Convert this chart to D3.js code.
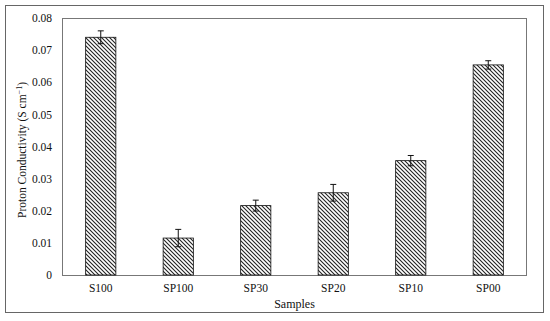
<!DOCTYPE html>
<html><head><meta charset="utf-8">
<script src="https://cdn.jsdelivr.net/npm/d3@7"></script>
<style>body{margin:0;background:#fff}svg{display:block}</style>
</head><body>
<script>
const categories = ["S100","SP100","SP30","SP20","SP10","SP00"];
const values = [0.0740,0.0115,0.0216,0.0256,0.0356,0.0654];
const errors = [0.0020,0.0027,0.0017,0.0026,0.0016,0.0013];
const yTicks = [0,0.01,0.02,0.03,0.04,0.05,0.06,0.07,0.08];
const yTickLabels = ["0","0.01","0.02","0.03","0.04","0.05","0.06","0.07","0.08"];

const W=550,H=321;
const m={left:62,top:18,right:527,bottom:275};
const svg=d3.select("body").append("svg").attr("width",W).attr("height",H);
const font="'Liberation Serif','Times New Roman',serif";

const defs=svg.append("defs");
const pat=defs.append("pattern").attr("id","hatch").attr("patternUnits","userSpaceOnUse")
  .attr("width",4).attr("height",4);
pat.append("rect").attr("width",4).attr("height",4).attr("fill","#fff");
pat.append("path").attr("d","M-1,-1 L5,5 M-1,3 L1,5 M3,-1 L5,1").attr("stroke","#222").attr("stroke-width",1.1);

svg.append("rect").attr("x",5.5).attr("y",5.5).attr("width",538).attr("height",307)
  .attr("fill","none").attr("stroke","#666").attr("stroke-width",1);

const x=d3.scaleBand().domain(categories).range([m.left,m.right]).paddingInner(0.61).paddingOuter(0.305);
const y=d3.scaleLinear().domain([0,0.08]).range([m.bottom,m.top]);

svg.append("rect").attr("x",m.left+0.5).attr("y",m.top+0.5).attr("width",m.right-m.left-1).attr("height",m.bottom-m.top)
  .attr("fill","none").attr("stroke","#777").attr("stroke-width",1);

const yAxis=d3.axisLeft(y).tickValues(yTicks).tickFormat((d,i)=>yTickLabels[i]).tickSize(0).tickPadding(10);
const ga=svg.append("g").attr("transform",`translate(${m.left},0)`).call(yAxis);
ga.select(".domain").remove();
ga.selectAll("text").attr("font-family",font).attr("font-size",11.5).attr("fill","#111");

const xAxis=d3.axisBottom(x).tickSize(0).tickPadding(9);
const gx=svg.append("g").attr("transform",`translate(0,${m.bottom})`).call(xAxis);
gx.select(".domain").remove();
gx.selectAll("text").attr("font-family",font).attr("font-size",11.5).attr("fill","#111");

svg.selectAll(".bar").data(values).enter().append("rect")
  .attr("x",(d,i)=>x(categories[i])).attr("y",d=>y(d))
  .attr("width",x.bandwidth()).attr("height",d=>y(0)-y(d))
  .attr("fill","url(#hatch)").attr("stroke","#111").attr("stroke-width",0.8);

const eb=svg.selectAll(".err").data(values).enter().append("g");
eb.append("line").attr("x1",(d,i)=>x(categories[i])+x.bandwidth()/2).attr("x2",(d,i)=>x(categories[i])+x.bandwidth()/2)
  .attr("y1",(d,i)=>y(d+errors[i])).attr("y2",(d,i)=>y(d-errors[i])).attr("stroke","#111").attr("stroke-width",1);
[1,-1].forEach(s=>{
  eb.append("line").attr("x1",(d,i)=>x(categories[i])+x.bandwidth()/2-3).attr("x2",(d,i)=>x(categories[i])+x.bandwidth()/2+3)
    .attr("y1",(d,i)=>y(d+s*errors[i])).attr("y2",(d,i)=>y(d+s*errors[i])).attr("stroke","#111").attr("stroke-width",1);
});

svg.append("text").attr("x",(m.left+m.right)/2).attr("y",308).attr("text-anchor","middle")
  .attr("font-family",font).attr("font-size",12).attr("fill","#111").text("Samples");

const yt=svg.append("text").attr("transform","translate(26,150) rotate(-90)").attr("text-anchor","middle")
  .attr("font-family",font).attr("font-size",11.5).attr("fill","#111");
yt.append("tspan").text("Proton Conductivity (S cm");
yt.append("tspan").attr("font-size",8).attr("dy",-4).text("−1");
yt.append("tspan").attr("dy",4).text(")");
</script>
</body></html>
